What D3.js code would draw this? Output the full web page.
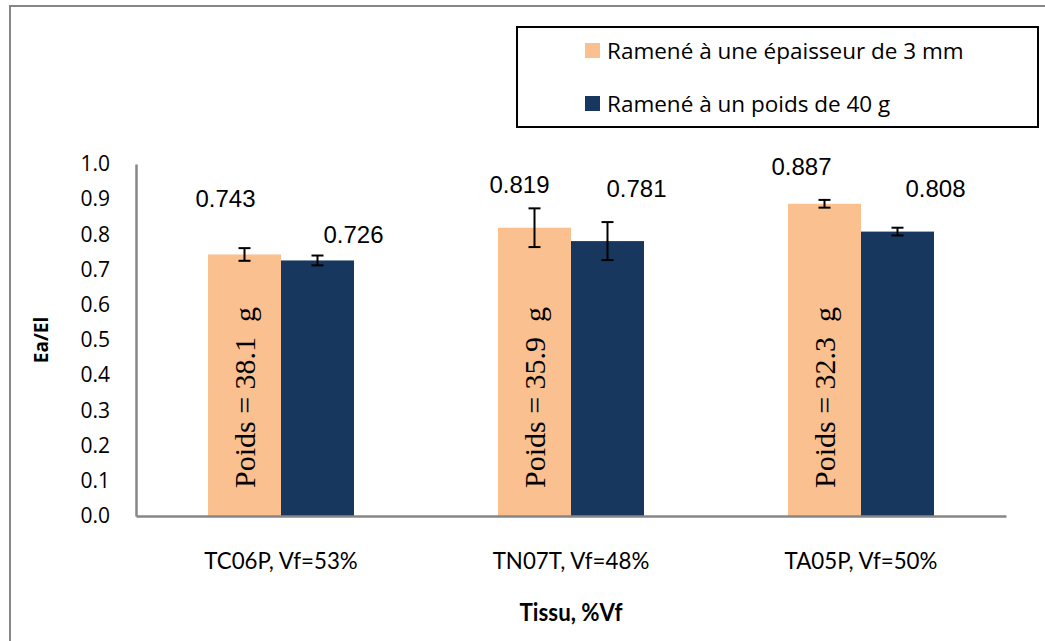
<!DOCTYPE html>
<html>
<head>
<meta charset="utf-8">
<script src="https://cdn.jsdelivr.net/npm/d3@7"></script>
<style>
  body { margin: 0; background: #fff; }
</style>
</head>
<body>
<div id="chart"></div>
<script>
// data
var categories = ["TC06P, Vf=53%", "TN07T, Vf=48%", "TA05P, Vf=50%"];
var seriesNames = ["Ramené à une épaisseur de 3 mm", "Ramené à un poids de 40 g"];
var thicknessValues = [0.743, 0.819, 0.887];
var thicknessErrors = [0.018, 0.055, 0.011];
var weightValues = [0.726, 0.781, 0.808];
var weightErrors = [0.014, 0.054, 0.011];
var weightLabels = ["Poids = 38.1  g", "Poids = 35.9  g", "Poids = 32.3  g"];
var yTicks = [0, 0.1, 0.2, 0.3, 0.4, 0.5, 0.6, 0.7, 0.8, 0.9, 1.0];

var colors = ["#FAC090", "#17375E"];

// hand-placed value labels in the original (dx, dy from bar top)
var labelShift = [
  [[-19, -47], [36, -17]],
  [[-15, -35], [29, -44]],
  [[-23, -29], [38, -35]]
];

var W = 1045, H = 641;
var plot = { left: 136, right: 1006, top: 164, bottom: 516 };

var svg = d3.select("#chart").append("svg")
  .attr("width", W)
  .attr("height", H);

// outer frame
svg.append("rect")
  .attr("x", 10).attr("y", 6)
  .attr("width", W + 20).attr("height", H + 20)
  .attr("fill", "#fff")
  .attr("stroke", "#878787")
  .attr("stroke-width", 2);

var x0 = d3.scaleBand()
  .domain(categories)
  .range([plot.left, plot.right]);

var x1 = d3.scaleBand()
  .domain([0, 1])
  .range([-73, 73]);

var y = d3.scaleLinear()
  .domain([0, 1])
  .range([plot.bottom, plot.top]);

var rows = categories.map(function(c, i) {
  return {
    cat: c,
    bars: [
      { s: 0, v: thicknessValues[i], e: thicknessErrors[i] },
      { s: 1, v: weightValues[i], e: weightErrors[i] }
    ],
    label: weightLabels[i],
    idx: i
  };
});

var groups = svg.selectAll("g.cat")
  .data(rows)
  .enter().append("g")
  .attr("class", "cat")
  .attr("transform", function(d) {
    return "translate(" + (x0(d.cat) + x0.bandwidth() / 2) + ",0)";
  });

groups.selectAll("rect.bar")
  .data(function(d) { return d.bars; })
  .enter().append("rect")
  .attr("class", "bar")
  .attr("x", function(d) { return x1(d.s); })
  .attr("width", x1.bandwidth())
  .attr("y", function(d) { return y(d.v); })
  .attr("height", function(d) { return y(0) - y(d.v); })
  .attr("fill", function(d) { return colors[d.s]; });

// vertical weight text inside the peach bar
groups.append("text")
  .attr("transform", function(d) {
    return "translate(" + (x1(0) + x1.bandwidth() / 2 + 10) + "," + (y(0) - 28) + ") rotate(-90)";
  })
  .attr("font-family", "'Liberation Serif', 'Times New Roman', serif")
  .attr("font-size", 30)
  .attr("fill", "#000")
  .style("white-space", "pre")
  .text(function(d) { return d.label; });

// error bars
var err = groups.selectAll("g.err")
  .data(function(d) { return d.bars; })
  .enter().append("g")
  .attr("class", "err")
  .attr("stroke", "#000")
  .attr("stroke-width", 2);

err.append("line")
  .attr("x1", function(d) { return x1(d.s) + x1.bandwidth() / 2; })
  .attr("x2", function(d) { return x1(d.s) + x1.bandwidth() / 2; })
  .attr("y1", function(d) { return y(d.v + d.e); })
  .attr("y2", function(d) { return y(d.v - d.e); });

[1, -1].forEach(function(sign) {
  err.append("line")
    .attr("x1", function(d) { return x1(d.s) + x1.bandwidth() / 2 - 6; })
    .attr("x2", function(d) { return x1(d.s) + x1.bandwidth() / 2 + 6; })
    .attr("y1", function(d) { return y(d.v + sign * d.e); })
    .attr("y2", function(d) { return y(d.v + sign * d.e); });
});

// value labels
groups.each(function(row) {
  d3.select(this).selectAll("text.val")
    .data(row.bars)
    .enter().append("text")
    .attr("class", "val")
    .attr("x", function(d) { return x1(d.s) + x1.bandwidth() / 2 + labelShift[row.idx][d.s][0]; })
    .attr("y", function(d) { return y(d.v) + labelShift[row.idx][d.s][1]; })
    .attr("text-anchor", "middle")
    .attr("font-family", "'Liberation Sans', Arial, sans-serif")
    .attr("font-size", 24)
    .attr("fill", "#000")
    .text(function(d) { return d3.format(".3f")(d.v); });
});

// axes
var yAxis = svg.append("g")
  .attr("transform", "translate(" + plot.left + ",0)")
  .call(d3.axisLeft(y).tickValues(yTicks).tickFormat(d3.format(".1f")).tickSize(0).tickPadding(26));

yAxis.select(".domain").attr("stroke", "#868686").attr("stroke-width", 2.5);
yAxis.selectAll("text")
  .attr("font-family", "'Open Sans', sans-serif")
  .attr("font-size", 21)
  .attr("fill", "#000");

var xAxis = svg.append("g")
  .attr("transform", "translate(0," + plot.bottom + ")")
  .call(d3.axisBottom(x0).tickSize(0).tickPadding(36));

xAxis.select(".domain").attr("stroke", "#868686").attr("stroke-width", 2.5);
// narrow look of the original labels
xAxis.selectAll("text")
  .attr("font-family", "Lato, sans-serif")
  .attr("font-size", 24)
  .attr("fill", "#000")
  .attr("transform", "scale(0.93,1)");

// axis titles
svg.append("text")
  .attr("transform", "translate(48,340) rotate(-90)")
  .attr("text-anchor", "middle")
  .attr("font-family", "'Open Sans', sans-serif")
  .attr("font-weight", "bold")
  .attr("font-size", 19)
  .text("Ea/El");

svg.append("text")
  .attr("transform", "translate(" + (plot.left + plot.right) / 2 + ",621) scale(0.93,1)")
  .attr("text-anchor", "middle")
  .attr("font-family", "Lato, sans-serif")
  .attr("font-weight", "bold")
  .attr("font-size", 24)
  .text("Tissu, %Vf");

// legend
var legend = svg.append("g");
legend.append("rect")
  .attr("x", 517).attr("y", 27)
  .attr("width", 521).attr("height", 100)
  .attr("fill", "#fff")
  .attr("stroke", "#000")
  .attr("stroke-width", 2);

var li = legend.selectAll("g.item")
  .data(seriesNames)
  .enter().append("g")
  .attr("class", "item")
  .attr("transform", function(d, i) { return "translate(585," + (43 + i * 53) + ")"; });

li.append("rect")
  .attr("width", 15).attr("height", 15)
  .attr("fill", function(d, i) { return colors[i]; });

li.append("text")
  .attr("x", 22).attr("y", 16)
  .attr("font-family", "'Open Sans', sans-serif")
  .attr("font-size", 22.5)
  .attr("fill", "#000")
  .text(function(d) { return d; });
</script>
</body>
</html>
